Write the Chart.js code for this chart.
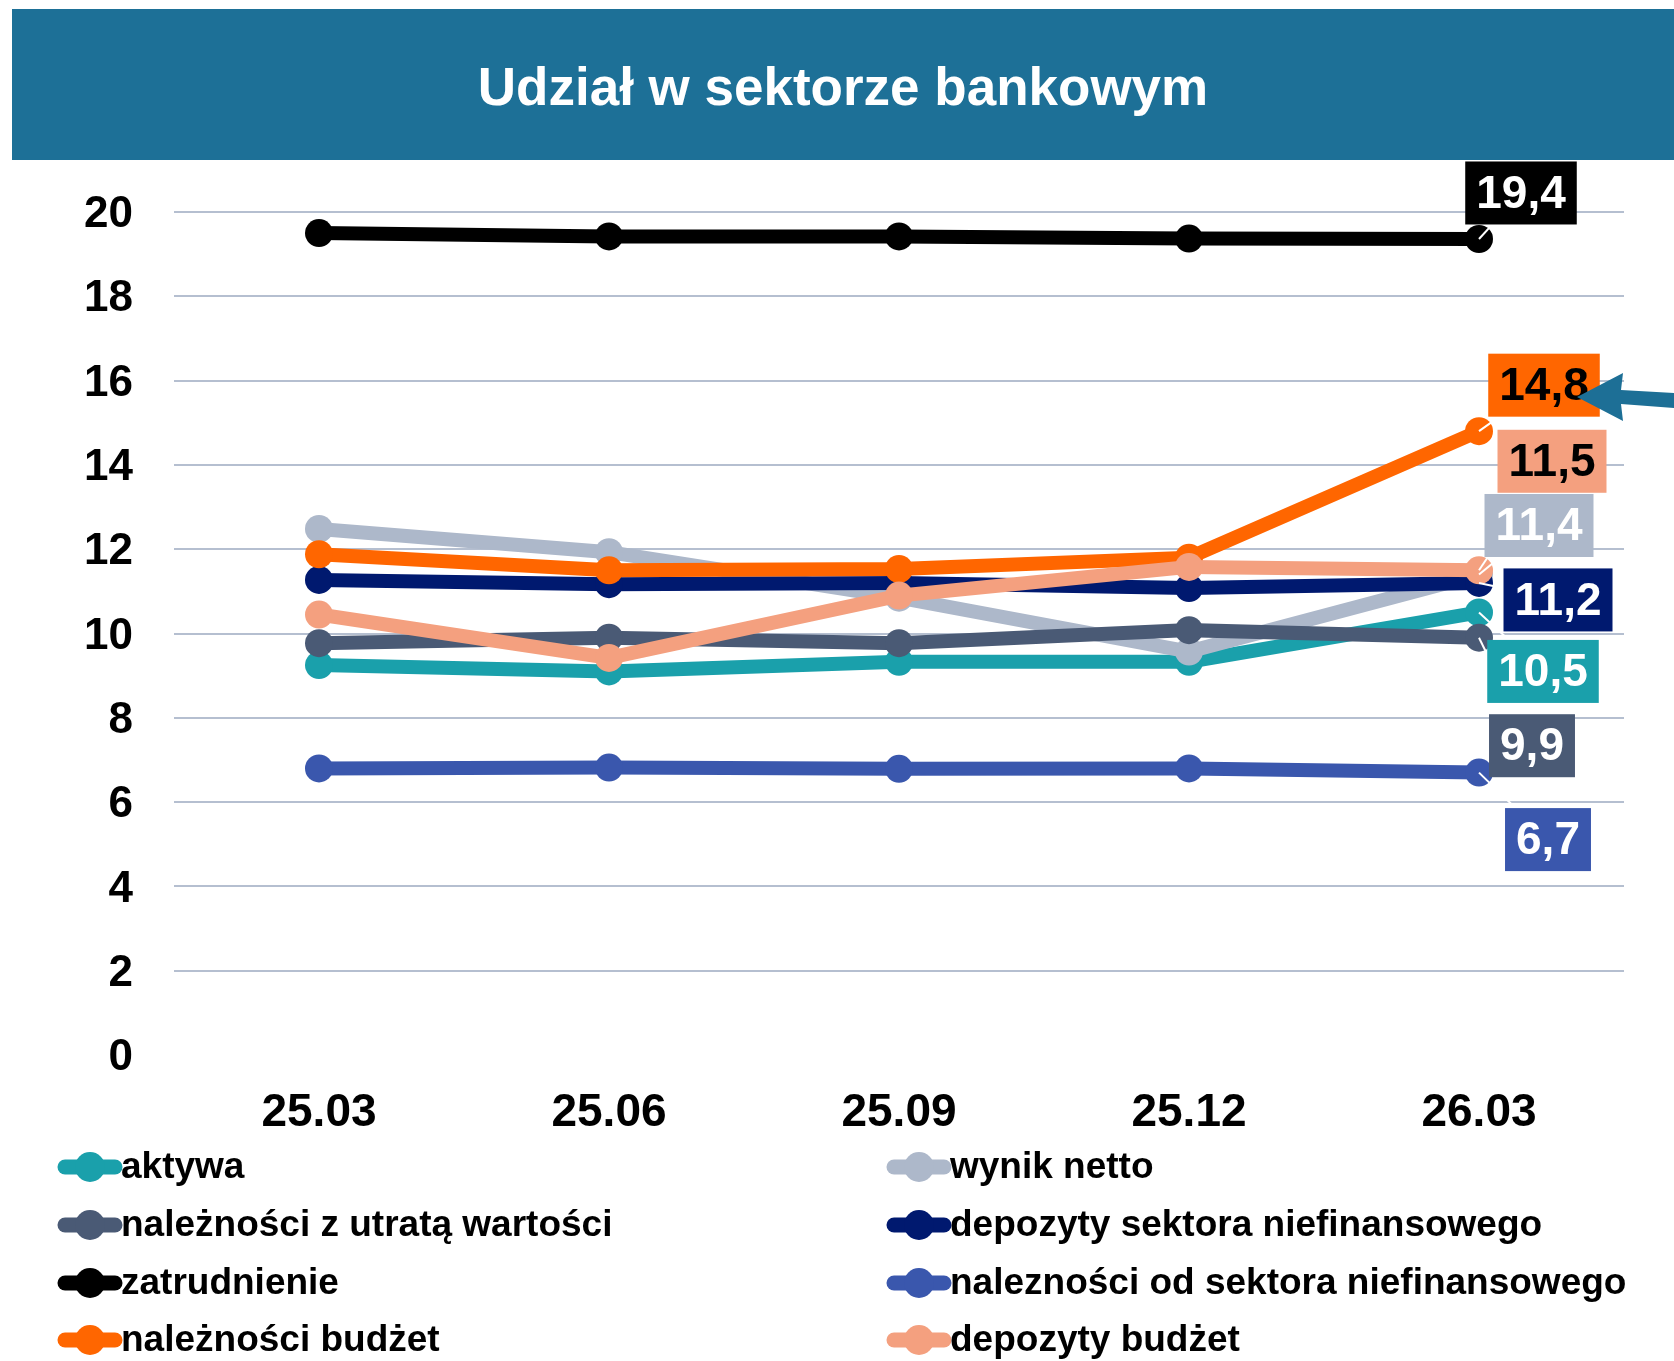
<!DOCTYPE html>
<html>
<head>
<meta charset="utf-8">
<script src="https://cdn.jsdelivr.net/npm/chart.js@4/dist/chart.umd.min.js"></script>
<style>
html,body{margin:0;padding:0;background:#fff;}
#wrap{width:1674px;height:1361px;position:relative;}
</style>
</head>
<body>
<div id="wrap"><canvas id="c" width="1674" height="1361"></canvas></div>
<script>
// ---- data ----
const chartTitle = 'Udział w sektorze bankowym';
const categories = ['25.03', '25.06', '25.09', '25.12', '26.03'];
const seriesNames = [
  'aktywa',
  'wynik netto',
  'należności z utratą wartości',
  'depozyty sektora niefinansowego',
  'zatrudnienie',
  'nalezności od sektora niefinansowego',
  'należności budżet',
  'depozyty budżet'
];
const aktywa = [9.25, 9.1, 9.33, 9.33, 10.5];
const wynikNetto = [12.48, 11.93, 10.85, 9.57, 11.4];
const naleznosciUtrata = [9.77, 9.9, 9.77, 10.08, 9.9];
const depozytySektora = [11.27, 11.17, 11.2, 11.08, 11.2];
const zatrudnienie = [19.5, 19.42, 19.42, 19.37, 19.36];
const naleznosciSektora = [6.8, 6.82, 6.79, 6.8, 6.7];
const naleznosciBudzet = [11.88, 11.5, 11.53, 11.8, 14.8];
const depozytyBudzet = [10.45, 9.42, 10.9, 11.58, 11.5];
const yTicks = [0, 2, 4, 6, 8, 10, 12, 14, 16, 18, 20];

// ---- styles ----
const seriesValues = [aktywa, wynikNetto, naleznosciUtrata, depozytySektora, zatrudnienie, naleznosciSektora, naleznosciBudzet, depozytyBudzet];
const colors = ['#1aa0ab', '#adb8ca', '#4a5a75', '#00196f', '#000000', '#3a57ad', '#ff6600', '#f4a07f'];
const labelTextColors = ['#fff', '#fff', '#fff', '#fff', '#fff', '#fff', '#000', '#000'];
const labelOffsets = [[64, 59], [60, -49], [53, 108], [79, 17], [42, -46], [69, 67], [65, -46], [73, -109]];
const FONT = "'Liberation Sans', Arial, sans-serif";

const datasets = seriesNames.map((name, i) => ({
  label: name,
  data: seriesValues[i],
  borderColor: colors[i],
  backgroundColor: colors[i],
  pointBackgroundColor: colors[i],
  pointBorderColor: colors[i],
  borderWidth: 14,
  pointRadius: 14,
  pointBorderWidth: 0,
  tension: 0,
  order: seriesNames.length - i
}));

const decorPlugin = {
  id: 'decor',
  beforeDraw(chart) {
    const ctx = chart.ctx;
    ctx.save();
    ctx.fillStyle = '#fff';
    ctx.fillRect(0, 0, chart.width, chart.height);
    ctx.fillStyle = '#1d7097';
    ctx.fillRect(12, 9, chart.width - 12, 151);
    ctx.fillStyle = '#fff';
    ctx.font = 'bold 53px ' + FONT;
    ctx.textAlign = 'center';
    ctx.textBaseline = 'middle';
    ctx.fillText(chartTitle, 843, 90);
    ctx.restore();
  },
  afterDatasetsDraw(chart) {
    const ctx = chart.ctx;
    ctx.save();
    const last = categories.length - 1;
    ctx.font = 'bold 46px ' + FONT;
    ctx.textAlign = 'center';
    ctx.textBaseline = 'middle';
    // leader lines
    seriesValues.forEach((vals, i) => {
      const pt = chart.getDatasetMeta(i).data[last];
      const lx = pt.x + labelOffsets[i][0];
      const ly = pt.y + labelOffsets[i][1];
      ctx.strokeStyle = '#ffffff';
      ctx.lineWidth = 2;
      ctx.beginPath();
      ctx.moveTo(pt.x, pt.y);
      const dx = lx - pt.x, dy = ly - pt.y;
      const len = Math.hypot(dx, dy);
      const stop = Math.max(len - 35, 15);
      ctx.lineTo(pt.x + dx / len * stop, pt.y + dy / len * stop);
      ctx.stroke();
    });
    // label boxes
    seriesValues.forEach((vals, i) => {
      const pt = chart.getDatasetMeta(i).data[last];
      const txt = vals[last].toFixed(1).replace('.', ',');
      const w = ctx.measureText(txt).width + 22;
      const h = 63;
      const cx = pt.x + labelOffsets[i][0];
      const cy = pt.y + labelOffsets[i][1];
      ctx.fillStyle = colors[i];
      ctx.fillRect(cx - w / 2, cy - h / 2, w, h);
      ctx.fillStyle = labelTextColors[i];
      ctx.fillText(txt, cx, cy + 2);
    });
    // arrow pointing at the orange label
    ctx.fillStyle = '#1d6f96';
    ctx.beginPath();
    ctx.moveTo(1577, 397);
    ctx.lineTo(1623, 373);
    ctx.lineTo(1621, 390);
    ctx.lineTo(1674, 393);
    ctx.lineTo(1674, 408);
    ctx.lineTo(1621, 404);
    ctx.lineTo(1623, 421);
    ctx.closePath();
    ctx.fill();
    ctx.restore();
  },
  afterDraw(chart) {
    const ctx = chart.ctx;
    ctx.save();
    const colX = [59, 888];
    const rowY = [1167, 1225, 1283, 1340];
    ctx.font = 'bold 37px ' + FONT;
    ctx.textBaseline = 'middle';
    ctx.textAlign = 'left';
    seriesNames.forEach((name, i) => {
      const x = colX[i % 2];
      const y = rowY[Math.floor(i / 2)];
      ctx.strokeStyle = colors[i];
      ctx.lineWidth = 15;
      ctx.lineCap = 'round';
      ctx.beginPath();
      ctx.moveTo(x + 6, y);
      ctx.lineTo(x + 56, y);
      ctx.stroke();
      ctx.fillStyle = colors[i];
      ctx.beginPath();
      ctx.arc(x + 31, y, 15, 0, Math.PI * 2);
      ctx.fill();
      ctx.fillStyle = '#000';
      ctx.fillText(name, x + 62, y + 1);
    });
    ctx.restore();
  }
};

new Chart(document.getElementById('c'), {
  type: 'line',
  data: { labels: categories, datasets: datasets },
  options: {
    responsive: false,
    animation: false,
    layout: { padding: { left: 0, right: 50, top: 212, bottom: 216 } },
    plugins: {
      legend: { display: false },
      title: { display: false },
      tooltip: { enabled: false }
    },
    scales: {
      x: {
        offset: true,
        grid: { display: false, drawTicks: false },
        border: { display: false },
        ticks: { color: '#000', font: { family: FONT, size: 46, weight: 'bold' }, padding: 31, maxRotation: 0 },
        afterFit(scale) { scale.height = 90; }
      },
      y: {
        min: yTicks[0],
        max: yTicks[yTicks.length - 1],
        afterBuildTicks(scale) { scale.ticks = yTicks.map(v => ({ value: v })); },
        grid: {
          drawTicks: false,
          lineWidth: 2,
          color: ctx => (ctx.tick && ctx.tick.value === 0) ? 'rgba(0,0,0,0)' : '#b5bfd0'
        },
        border: { display: false },
        ticks: { color: '#000', font: { family: FONT, size: 44, weight: 'bold' }, padding: 41, labelOffset: 3 },
        afterFit(scale) { scale.width = 174; }
      }
    }
  },
  plugins: [decorPlugin]
});
</script>
</body>
</html>
